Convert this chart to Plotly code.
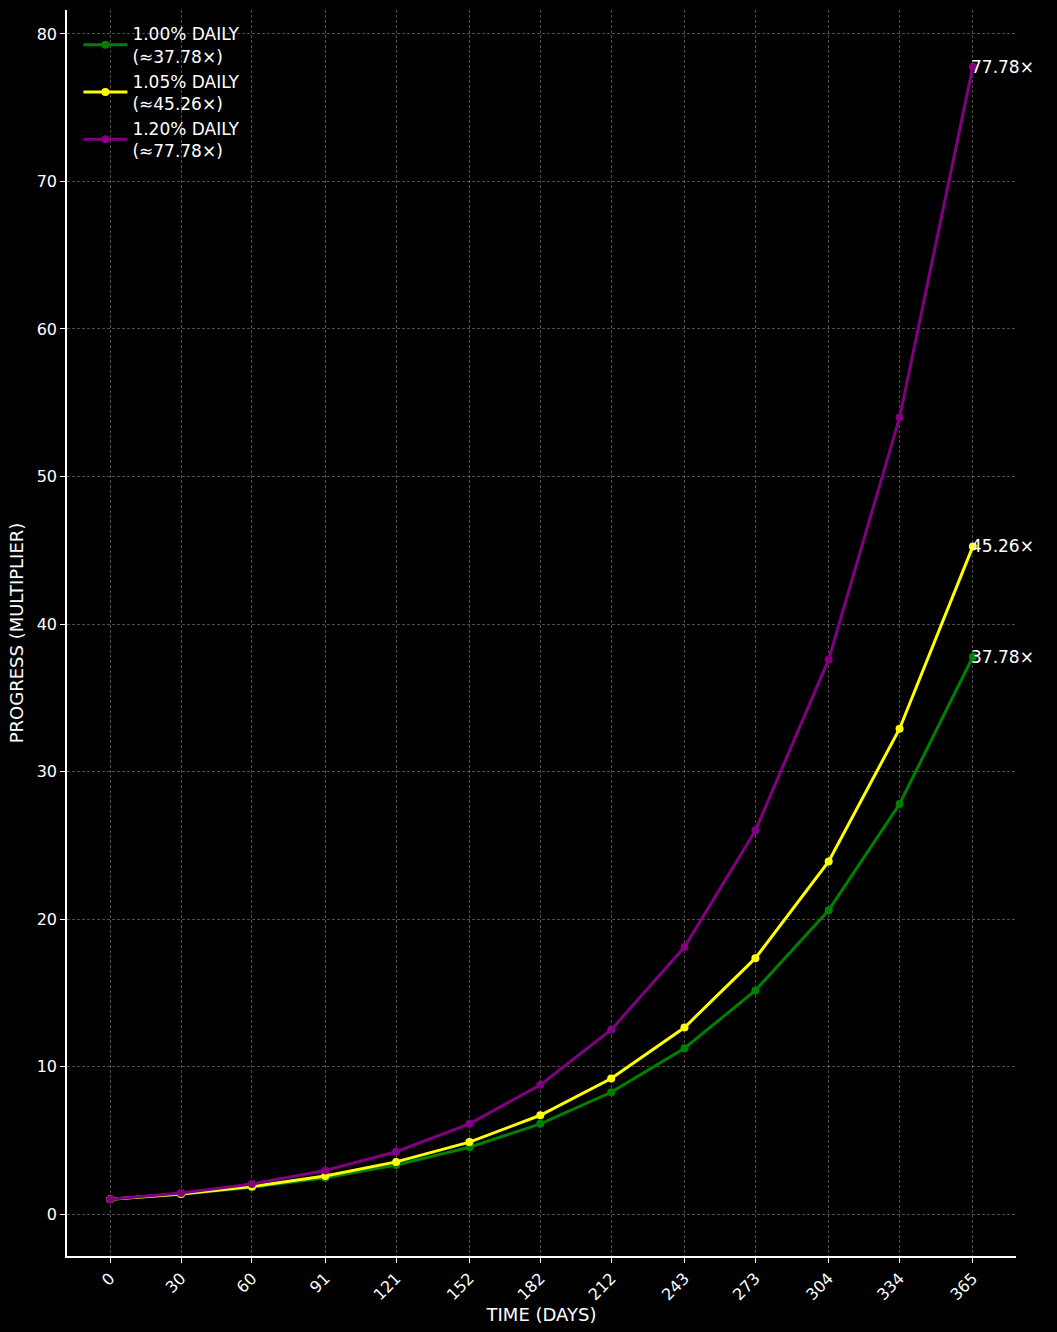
import plotly.graph_objects as go

# Source data
days = [0, 30, 60, 91, 121, 152, 182, 212, 243, 273, 304, 334, 365]

green_vals = [1.0, 1.35, 1.82, 2.47, 3.33, 4.53, 6.12, 8.26, 11.24, 15.16, 20.6, 27.8, 37.78]
yellow_vals = [1.0, 1.37, 1.87, 2.58, 3.54, 4.88, 6.70, 9.19, 12.65, 17.35, 23.9, 32.9, 45.26]
purple_vals = [1.0, 1.43, 2.04, 2.96, 4.23, 6.12, 8.76, 12.5, 18.1, 26.0, 37.6, 54.0, 77.78]

series_names = ["1.00% DAILY<br>(≈37.78×)", "1.05% DAILY<br>(≈45.26×)", "1.20% DAILY<br>(≈77.78×)"]
end_labels = ["37.78×", "45.26×", "77.78×"]
colors = ["#008000", "#ffff00", "#800080"]

FONT = "DejaVu Sans"

fig = go.Figure()

for vals, name, col, lab in zip([green_vals, yellow_vals, purple_vals], series_names, colors, end_labels):
    fig.add_trace(go.Scatter(
        x=days, y=vals, name=name,
        mode="lines+markers",
        line=dict(color=col, width=3),
        marker=dict(color=col, size=8),
    ))
    fig.add_annotation(
        x=days[-1], y=vals[-1], text=lab,
        showarrow=False, xanchor="left", yanchor="middle", xshift=-4,
        font=dict(family=FONT, size=17, color="white"),
    )

grid = dict(showgrid=True, gridcolor="rgba(255,255,255,0.3)", griddash="3px,2px", gridwidth=0.7)

fig.update_xaxes(
    range=[-18.25, 383.25], tickvals=days, ticktext=[str(d) for d in days],
    tickangle=-45, ticks="outside", ticklen=5, tickcolor="white",
    showline=True, linecolor="white", linewidth=1.5, zeroline=False,
    title=dict(text="TIME (DAYS)", font=dict(size=18, color="white", family=FONT), standoff=4),
    tickfont=dict(size=16, color="white", family=FONT),
    **grid,
)
fig.update_yaxes(
    range=[-2.84, 81.62], tickvals=[0, 10, 20, 30, 40, 50, 60, 70, 80],
    ticks="outside", ticklen=5, tickcolor="white",
    showline=True, linecolor="white", linewidth=1.5, zeroline=False,
    title=dict(text="PROGRESS (MULTIPLIER)", font=dict(size=18, color="white", family=FONT), standoff=8),
    tickfont=dict(size=16, color="white", family=FONT),
    **grid,
)

fig.update_layout(
    width=1057, height=1332,
    paper_bgcolor="black", plot_bgcolor="black",
    font=dict(family=FONT, color="white"),
    margin=dict(l=67, r=41, t=10, b=76),
    showlegend=True,
    legend=dict(
        x=0.012, y=0.995, xanchor="left", yanchor="top",
        bgcolor="rgba(0,0,0,0)", font=dict(size=17, color="white", family=FONT),
        itemwidth=44, tracegroupgap=0,
    ),
)

fig.write_html(
    "out.html",
    config={"displayModeBar": False},
    post_script="document.body.style.margin='0';document.body.style.background='black';",
)
